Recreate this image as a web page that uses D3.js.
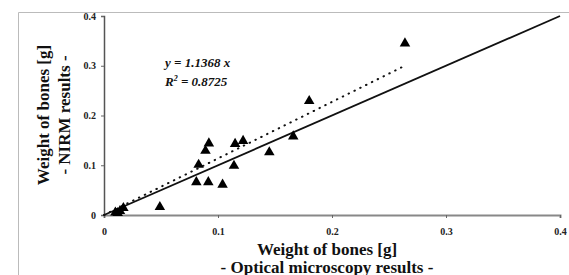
<!DOCTYPE html>
<html>
<head>
<meta charset="utf-8">
<script src="https://cdn.jsdelivr.net/npm/d3@7"></script>
<style>
body { margin: 0; background: #fff; }
</style>
</head>
<body>
<div id="chart"></div>
<script>
// optical microscopy (x) vs NIRM (y), bone weight in g
var opticalX = [0.010, 0.012, 0.014, 0.017, 0.049, 0.081, 0.0915, 0.083, 0.089, 0.092,
                0.104, 0.114, 0.115, 0.122, 0.145, 0.166, 0.180, 0.264];
var nirmY    = [0.005, 0.004, 0.008, 0.014, 0.016, 0.066, 0.066, 0.101, 0.129, 0.144,
                0.061, 0.099, 0.143, 0.149, 0.126, 0.158, 0.229, 0.345];
var xTicks = [0, 0.1, 0.2, 0.3, 0.4];
var yTicks = [0, 0.1, 0.2, 0.3, 0.4];
var slope = 1.1368;
var eqLines = ["y = 1.1368 x", "R", " = 0.8725"];

var serif = "'Liberation Serif', 'DejaVu Serif', serif";
var width = 569, height = 275;
var margin = {left: 104, right: 9, top: 16, bottom: 60};

var svg = d3.select("#chart").append("svg")
    .attr("width", width)
    .attr("height", height);

// gray frame of the figure
svg.append("path")
    .attr("d", "M18.5," + height + "V12.5H" + width)
    .attr("fill", "none")
    .attr("stroke", "#bbb")
    .attr("stroke-width", 1);

var x = d3.scaleLinear().domain([0, 0.4]).range([margin.left, width - margin.right]);
var y = d3.scaleLinear().domain([0, 0.4]).range([height - margin.bottom, margin.top]);

var fmt = d => d === 0 ? "0" : d3.format(".1f")(d);
var xAxis = svg.append("g")
    .attr("transform", "translate(0," + y(0) + ")")
    .call(d3.axisBottom(x).tickValues(xTicks).tickSize(3).tickPadding(10).tickFormat(fmt));
var yAxis = svg.append("g")
    .attr("transform", "translate(" + x(0) + ",0)")
    .call(d3.axisLeft(y).tickValues(yTicks).tickSize(3).tickPadding(5).tickFormat(fmt));

xAxis.select(".domain").attr("stroke", "#888").attr("stroke-width", 2);
yAxis.select(".domain").attr("stroke", "#555").attr("stroke-width", 1.5);
svg.selectAll(".tick line").attr("stroke", "#666");
svg.selectAll(".tick text")
    .style("font-family", serif)
    .style("font-weight", "bold")
    .style("font-size", "10px")
    .attr("fill", "#222");

// y = x reference line
var line = d3.line().x(d => x(d[0])).y(d => y(d[1]));
svg.append("path")
    .attr("d", line([[0, 0], [0.4, 0.4]]))
    .attr("fill", "none")
    .attr("stroke", "#111")
    .attr("stroke-width", 1.8);

// fitted line through the origin
var xMax = d3.max(opticalX);
svg.append("path")
    .attr("d", line([[0, 0], [xMax, slope * xMax]]))
    .attr("fill", "none")
    .attr("stroke", "#111")
    .attr("stroke-width", 2)
    .attr("stroke-linecap", "round")
    .attr("stroke-dasharray", "0.5,6");

var tri = d3.symbol().type(d3.symbolTriangle).size(48);
svg.selectAll("path.pt").data(opticalX).enter().append("path")
    .attr("class", "pt")
    .attr("d", tri)
    .attr("transform", (d, i) => "translate(" + x(d) + "," + y(nirmY[i]) + ")")
    .attr("fill", "#000");

function label(sel, size) {
    return sel.style("font-family", serif)
        .style("font-weight", "bold")
        .style("font-size", size + "px")
        .attr("fill", "#111");
}

// equation
label(svg.append("text"), 13)
    .attr("x", 165).attr("y", 67)
    .style("font-style", "italic")
    .text(eqLines[0]);
var r2 = label(svg.append("text"), 13)
    .attr("x", 165).attr("y", 86)
    .style("font-style", "italic");
r2.append("tspan").text(eqLines[1]);
r2.append("tspan").attr("dy", -5).style("font-size", "8px").text("2");
r2.append("tspan").attr("dy", 5).text(eqLines[2]);

// axis titles
label(svg.append("text"), 17)
    .attr("x", 327).attr("y", 255)
    .attr("text-anchor", "middle")
    .text("Weight of bones [g]");
label(svg.append("text"), 17)
    .attr("x", 327).attr("y", 273)
    .attr("text-anchor", "middle")
    .text("- Optical microscopy results -");

var yTitle = svg.append("g").attr("transform", "translate(49,115) rotate(-90)");
label(yTitle.append("text"), 17)
    .attr("text-anchor", "middle")
    .text("Weight of bones [g]");
label(yTitle.append("text"), 17)
    .attr("y", 21)
    .attr("text-anchor", "middle")
    .text("- NIRM results -");
</script>
</body>
</html>
